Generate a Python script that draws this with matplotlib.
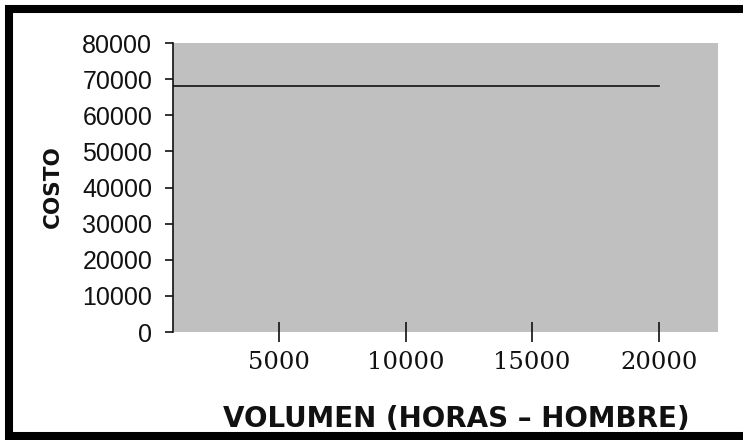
#!/usr/bin/env python3
import matplotlib
matplotlib.use("Agg")
import matplotlib.pyplot as plt
from matplotlib.lines import Line2D

# costo fijo vs volumen
horas = [0, 5000, 10000, 15000, 20000]
costo = [68000, 68000, 68000, 68000, 68000]
x_ticks = [5000, 10000, 15000, 20000]
y_ticks = [0, 10000, 20000, 30000, 40000, 50000, 60000, 70000, 80000]

W, H = 743, 440
fig = plt.figure(figsize=(W / 100, H / 100), dpi=100)
fig.patch.set_facecolor("white")

ax = fig.add_axes([173 / W, 1 - 332 / H, (718 - 173) / W, (332 - 43) / H])
ax.set_facecolor("#c0c0c0")
ax.plot(horas, costo, color="#111111", lw=1.2)

ax.set_xlim(817, 22340)
ax.set_ylim(0, 80000)
ax.set_xticks(x_ticks)
ax.set_yticks(y_ticks)

for s in ("top", "right", "bottom"):
    ax.spines[s].set_visible(False)
ax.spines["left"].set_linewidth(1.2)
ax.spines["left"].set_color("#111111")

ax.tick_params(axis="y", direction="out", length=6, width=1.2, pad=9,
               colors="#111111", labelsize=18)
ax.tick_params(axis="x", direction="inout", length=14, width=1.2, pad=7,
               colors="#111111", labelsize=17.5)
for lab in ax.get_yticklabels():
    lab.set_fontfamily("Liberation Sans")
for lab in ax.get_xticklabels():
    lab.set_fontfamily("DejaVu Serif")

fig.text(53 / W, 1 - 187 / H, "COSTO", rotation=90, ha="center", va="center",
         fontsize=15.5, fontweight="bold", family="DejaVu Sans", color="#111111")
fig.text(456.5 / W, 1 - 427 / H, "VOLUMEN (HORAS \u2013 HOMBRE)", ha="center",
         va="baseline", fontsize=20, fontweight="bold", family="DejaVu Sans",
         color="#111111")

# marco negro grueso (sin lado derecho)
frame = dict(color="black", lw=5.8, transform=fig.transFigure, solid_capstyle="butt")
fig.add_artist(Line2D([5 / W, 1], [1 - 9 / H, 1 - 9 / H], **frame))
fig.add_artist(Line2D([9 / W, 9 / W], [0, 1 - 5 / H], **frame))
fig.add_artist(Line2D([5 / W, 1], [1 - 436 / H, 1 - 436 / H], **frame))

fig.savefig("out.png", dpi=100)
